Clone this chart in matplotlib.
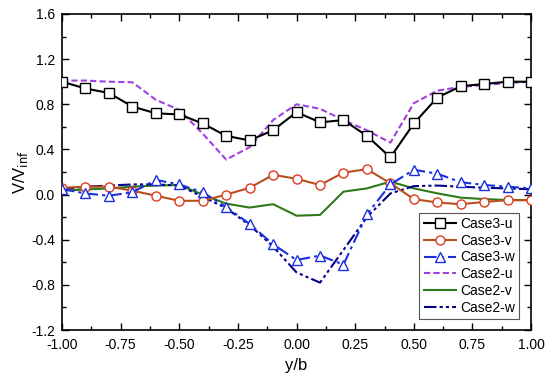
import matplotlib
matplotlib.use("Agg")
import matplotlib.pyplot as plt
from matplotlib.ticker import MultipleLocator

plt.rcParams['font.family'] = ['Liberation Sans', 'DejaVu Sans']

x = [-1.0, -0.9, -0.8, -0.7, -0.6, -0.5, -0.4, -0.3, -0.2, -0.1, 0.0,
     0.1, 0.2, 0.3, 0.4, 0.5, 0.6, 0.7, 0.8, 0.9, 1.0]

case3_u = [1.00, 0.94, 0.90, 0.78, 0.72, 0.71, 0.63, 0.52, 0.48, 0.57, 0.73,
           0.64, 0.66, 0.52, 0.33, 0.63, 0.86, 0.96, 0.98, 1.00, 1.00]
case3_v = [0.06, 0.07, 0.07, 0.035, -0.01, -0.055, -0.055, 0.0, 0.06, 0.175, 0.14,
           0.085, 0.195, 0.225, 0.10, -0.04, -0.07, -0.085, -0.065, -0.05, -0.05]
case3_w = [0.05, 0.01, -0.01, 0.02, 0.13, 0.09, 0.02, -0.11, -0.26, -0.44, -0.58,
           -0.54, -0.62, -0.175, 0.09, 0.22, 0.185, 0.11, 0.085, 0.07, 0.055]
case2_u = [1.01, 1.01, 1.00, 0.995, 0.84, 0.75, 0.54, 0.31, 0.42, 0.66, 0.80,
           0.76, 0.66, 0.57, 0.46, 0.81, 0.92, 0.955, 0.97, 0.99, 1.00]
case2_v = [0.035, 0.045, 0.055, 0.07, 0.08, 0.085, 0.0, -0.08, -0.115, -0.085, -0.187,
           -0.18, 0.026, 0.055, 0.115, 0.055, 0.011, -0.027, -0.04, -0.048, -0.048]
case2_w = [0.05, 0.07, 0.08, 0.09, 0.09, 0.08, -0.02, -0.12, -0.27, -0.46, -0.69,
           -0.78, -0.49, -0.20, 0.01, 0.075, 0.08, 0.07, 0.06, 0.055, 0.047]

xticks = [-1.0, -0.75, -0.5, -0.25, 0.0, 0.25, 0.5, 0.75, 1.0]
yticks = [-1.2, -0.8, -0.4, 0.0, 0.4, 0.8, 1.2, 1.6]

fig = plt.figure(figsize=(5.5, 3.82), dpi=100)
ax = fig.add_axes([0.1127, 0.136, 0.853, 0.8274])

ax.plot(x, case3_u, color='black', lw=1.5, marker='s', ms=6.5, mfc='white',
        mec='black', mew=1.0, label='Case3-u', zorder=5)
ax.plot(x, case3_v, color='#b8501e', lw=1.5, marker='o', ms=6.5, mfc='white',
        mec='#dd3b22', mew=1.0, label='Case3-v', zorder=5)
ax.plot(x, case3_w, color='#1a2fe0', lw=1.5, ls=(0, (6, 2, 1.5, 2)), marker='^', ms=7,
        mfc='white', mec='#1a2fe0', mew=1.0, label='Case3-w', zorder=5)
ax.plot(x, case2_u, color='#a040e0', lw=1.5, ls=(0, (3, 1.5)), label='Case2-u', zorder=4)
ax.plot(x, case2_v, color='#2d7a1a', lw=1.5, label='Case2-v', zorder=4)
ax.plot(x, case2_w, color='#000090', lw=1.5, ls=(0, (6, 1.5, 1.5, 1.5, 1.5, 1.5)),
        label='Case2-w', zorder=4)

ax.set_xticks(xticks)
ax.set_xticklabels(['%.2f' % v for v in xticks])
ax.set_yticks(yticks)
ax.set_yticklabels(['%.1f' % v for v in yticks])
ax.xaxis.set_minor_locator(MultipleLocator(0.125))
ax.yaxis.set_minor_locator(MultipleLocator(0.2))
ax.set_xlim(-1.0, 1.0)
ax.set_ylim(-1.2, 1.6)

ax.tick_params(which='both', direction='in', top=True, right=True, labelsize=10,
               width=1.0, colors='black')
ax.tick_params(which='major', length=5)
ax.tick_params(which='minor', length=3)
ax.tick_params(axis='x', which='major', pad=6)
ax.tick_params(axis='y', which='major', pad=5)
for s in ax.spines.values():
    s.set_linewidth(1.2)

ax.set_xlabel('y/b', fontsize=12, labelpad=4)
ax.set_ylabel(r'V/V$_{\mathrm{inf}}$', fontsize=12, labelpad=1)

leg = ax.legend(loc='lower right', bbox_to_anchor=(0.975, 0.035), fontsize=10,
                frameon=True, fancybox=False, edgecolor='#555555', framealpha=1,
                handlelength=2.3, borderpad=0.3, labelspacing=0.2, handletextpad=0.35,
                borderaxespad=0.0)
leg.get_frame().set_linewidth(0.8)

fig.savefig('out.png', dpi=100)
